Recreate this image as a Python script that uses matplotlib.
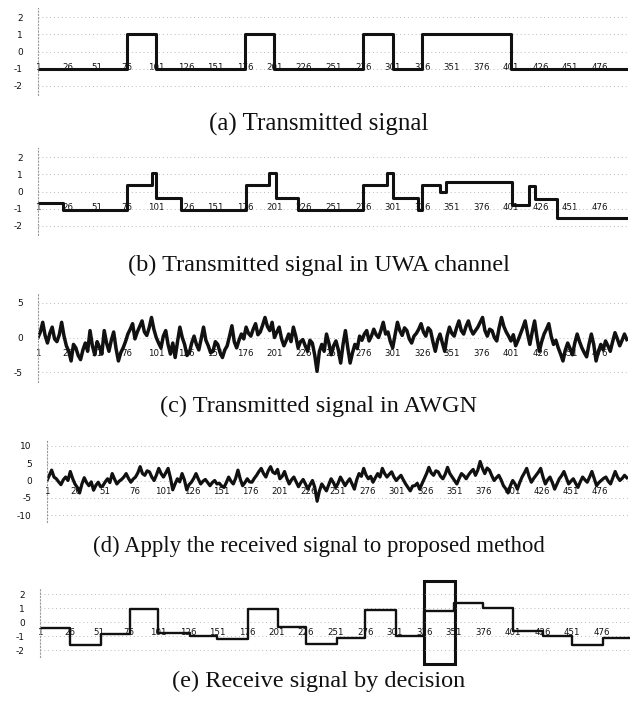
import matplotlib.pyplot as plt
import numpy as np
from matplotlib.patches import Rectangle

plt.rcParams["axes.unicode_minus"] = False

W, H = 638, 709

# x axis: sample index, labelled every 25 samples
tick_samples = list(range(1, 500, 25))
tick_labels = [str(t) for t in tick_samples]

# (a) transmitted signal, one level per 25-sample symbol
tx_levels = [-1, -1, -1, 1, -1, -1, -1, 1, -1, -1, -1, 1, -1, 1, 1, 1, -1, -1, -1, -1]

# (b) signal after the UWA channel (segment edges and levels)
uwa_edges = [1, 22, 76, 97, 101, 122, 177, 196, 202, 221, 276, 296, 301, 322, 326,
             341, 346, 402, 416, 421, 440, 500]
uwa_levels = [-0.65, -1.05, 0.35, 1.05, -0.35, -1.05, 0.35, 1.05, -0.35, -1.05, 0.35,
              1.1, -0.35, -1.05, 0.35, 0.0, 0.55, -0.8, 0.3, -0.45, -1.55]

# (c) signal in AWGN, read every 2nd sample
awgn_vals = [0.0, 0.8, 2.2, 0.3, -0.8, 0.6, 1.5, -0.2, -0.6, 0.4, 2.2, 0.2,
             -1.2, -2.0, -3.4, -1.0, -1.5, -2.6, -3.2, -1.8, -0.8, -2.0, 1.0, -1.2, -2.5,
             -0.6, -1.4, -2.4, 1.0, -0.8, -2.0, -0.4, 0.8, -1.6, -3.4, -2.2, -1.5, -0.6,
             0.5, 1.2, 2.0, -0.2, 0.8, 1.6, 2.4, 0.8, 0.3, 1.4, 2.9, 1.2,
             0.0, -0.8, -1.5, 0.2, 1.0, -1.0, -2.4, -0.8, -2.9, -0.6, 1.5, 0.0,
             -1.0, -2.6, -2.2, -0.8, 0.2, -1.0, -1.8, -0.2, 1.5, -0.4, -1.2, -2.2,
             -2.0, -0.6, -1.0, -2.2, -2.9, -1.8, -1.2, 0.2, 1.7, -0.6, -1.5, -0.4, 0.5, -0.2,
             1.5, 0.6, 0.2, 1.2, 2.0, 0.4, 0.8, 1.8, 2.9, 1.6, 1.0, 2.2,
             0.0, 0.8, 1.5, -0.2, -1.2, -0.4, 0.5, -0.6, 1.5, 0.2,
             -1.5, -0.6, -0.3, -1.2, -2.0, -0.4, -0.8, -2.5, -4.9, -2.0,
             -1.0, -2.0, 0.5, -0.8, -2.5, -1.2, -0.5, -1.8, -3.7,
             -1.0, 1.0, -1.5, -3.7, -2.2, -1.0, -1.6, 0.2, -0.4,
             0.5, 1.0, -0.5, 0.2, 1.2, 0.4, 0.0, 1.0, 2.2, 0.5, 0.8, -0.6, -1.5, 0.4,
             2.2, 1.0, 0.3, 1.4, 1.0, -0.2, -0.8, 0.2, 0.6, 1.2, 2.0, 0.8, 0.2, 1.4,
             1.0, -0.6, -2.0, -0.4, 0.5, -0.8, -2.0, 0.2, 1.5,
             0.6, 0.2, 1.4, 2.4, 1.0, 0.5, 1.6, 2.4, 1.2,
             0.5, 1.0, 1.5, 2.2, 2.9, 1.0, 0.2, 1.2, 1.0, 0.0,
             -0.5, 1.4, 2.9, 1.6, 0.8, 0.2, -0.5, 0.4, -1.2, -0.4,
             0.5, 1.4, 2.4, 0.6, -1.0, 0.8, 2.4, 0.0,
             -2.0, -0.6, 0.5, 1.2, 2.0, 0.2, -1.0, -0.4,
             -1.5, -2.4, -3.4, -1.8, -0.8, -1.6, -2.5, -0.8, 0.5, -0.6,
             -1.5, -2.2, -2.8, -1.0, 0.5, -1.0, -3.4, -2.0, -1.0, -1.8,
             -0.5, -1.2, -2.0, -0.6, 0.7, -0.2, -1.2, -0.4, 0.5, -0.3]

# (d) received signal fed to the proposed method, every 2nd sample
prop_vals = [0.0, 1.5, 3.0, 1.0, 0.5, -0.4, -1.2, 0.2, 1.0, 0.0, 2.6, 0.6,
             -1.0, -2.0, -3.6, -1.0, 0.8, -0.6, -1.5, -0.4, -2.8, -1.4, -0.5, -1.8,
             -1.5, -0.4, 0.5, -0.6, 2.0, 0.4, -1.0, -0.2, 0.3, 1.0, 2.0, 0.6, -0.5, 0.4,
             1.0, 2.2, 4.0, 2.0, 1.5, 2.8, 2.5, 1.0, 0.0, 1.6, 3.5, 2.0, 1.0, 2.2, 3.5, 0.8,
             -2.7, -1.0, 0.5, -0.4, 2.0, 0.2, -2.7, -1.2, -0.5, 0.6, 2.0, 0.4, -1.0,
             -0.2, 0.3, -0.6, -1.5, -0.6, 0.0, -1.0, -0.8, -1.6, -2.0, -0.6, 1.0, -0.2,
             -1.0, 0.6, 3.0, 0.4, -1.5, -0.6, 0.5, -0.4, -0.5, 0.6,
             1.5, 2.6, 3.5, 2.0, 1.0, 2.8, 4.0, 2.4, 2.0, 3.2,
             0.5, 1.2, 2.6, 0.6, -1.0, 0.2, 1.0, -0.4, -1.8, -0.6, 0.3, -1.0, -2.5,
             -1.2, 0.0, -2.0,
             -6.0, -3.0, -1.0, -2.0, -3.0, -1.2, 0.5, -0.6, -2.0, -0.8,
             1.0, -0.2, -1.5, -0.4, 0.5, -1.0, -2.5, 0.2, 2.0, 1.2, 3.5, 1.6, 0.5, 1.2,
             -0.5, 0.8, 2.0, 1.0, 3.5, 2.0, 1.0, 1.8, 2.5, 1.0, 0.0, 0.8, 1.5, 0.2,
             -1.0, -2.0, -3.0, -1.6, -1.5, -0.8, -2.5, -1.0,
             0.5, 2.0, 3.8, 2.2, 1.5, 2.8, 2.5, 1.2, 0.5, 1.8, 3.8, 2.0, 1.0, 0.0,
             -1.0, 0.6, 2.0, 1.4, 0.5, 1.6,
             2.5, 3.2, 1.5, 3.0, 5.5, 3.5, 2.0, 3.6, 3.0, 1.4, 0.0, 0.8, 1.5, 0.2,
             -1.5, -2.4, -3.6, -1.5, 0.0, -1.0, -2.5, -0.6, 1.0, 2.2, 3.5, 1.2, -0.5,
             0.6, 1.5, 2.4, 3.5, 1.0, -1.0, 0.2,
             1.0, -0.6, -2.5, -1.0, 0.5, 1.4, 2.6, 0.8, -1.0, -0.2, 0.5, -0.8, -2.0,
             -0.4, 1.0, 0.2, -0.5, 1.0, 2.6, 0.6, -1.5, -0.6, 0.0, 0.6, 1.0, -0.2,
             -1.0, 0.8, 2.6, 1.0, 0.0, 0.6, 1.5, 0.8]

# (e) decided signal
dec_edges = [1, 26, 53, 77, 101, 128, 151, 177, 202, 226, 252, 276, 302, 326, 351,
             376, 401, 426, 451, 477, 500]
dec_levels = [-0.43, -1.67, -0.84, 0.95, -0.79, -1.03, -1.19, 0.95, -0.38, -1.55,
              -1.14, 0.88, -0.98, 0.76, 1.36, 1.0, -0.62, -1.03, -1.67, -1.14]
box_x = (326, 352)
box_y = (-3.0, 2.9)

captions = ["(a) Transmitted signal",
            "(b) Transmitted signal in UWA channel",
            "(c) Transmitted signal in AWGN",
            "(d) Apply the received signal to proposed method",
            "(e) Receive signal by decision"]
caption_sizes = [18, 17.5, 17.5, 16.4, 17.5]

INK = "#111111"


def make_axes(fig, left, top, right, bottom, ylim, yticks, ylabels, label_pad):
    ax = fig.add_axes([left / W, 1 - bottom / H, (right - left) / W, (bottom - top) / H])
    ax.set_xlim(1, 500)
    ax.set_ylim(*ylim)
    ax.set_yticks(yticks)
    ax.set_yticklabels(ylabels)
    ax.set_xticks(tick_samples)
    ax.set_xticklabels(tick_labels, fontweight="bold")
    for side in ["top", "right"]:
        ax.spines[side].set_visible(False)
    ax.spines["bottom"].set_position(("data", 0))
    ax.spines["bottom"].set_visible(False)
    ax.spines["left"].set_linestyle((0, (1, 2)))
    ax.spines["left"].set_color("#999999")
    ax.spines["left"].set_linewidth(0.8)
    ax.tick_params(axis="x", length=0, pad=label_pad, labelsize=6.2, colors="#111111")
    ax.tick_params(axis="y", length=0, pad=11, labelsize=6.5, colors="#111111")
    ax.yaxis.grid(True, linestyle=(0, (1, 3)), color="#bbbbbb", linewidth=0.7)
    ax.set_facecolor("none")
    return ax


fig = plt.figure(figsize=(W / 100, H / 100), dpi=100)

# (a)
ax = make_axes(fig, 38, 8.4, 628, 94.6, (-2.5, 2.5), [-2, -1, 0, 1, 2],
               ["-2", "-1", "0", "1", "2"], 8)
edges = list(range(1, 501, 25)) + [500]
ax.step(edges, tx_levels + [tx_levels[-1]], where="post", color=INK, lw=2.2)

# (b)
ax = make_axes(fig, 38, 148.4, 628, 234.6, (-2.5, 2.5), [-2, -1, 0, 1, 2],
               ["-2", "-1", "0", "1", "2"], 8)
ax.step(uwa_edges, uwa_levels + [uwa_levels[-1]], where="post", color=INK, lw=2.2)

# (c)
ax = make_axes(fig, 38, 292.6, 628, 382.4, (-6.5, 6.5), [-5, 0, 5],
               ["-5", "0", "5"], 8)
ax.plot(np.arange(1, 500, 2), awgn_vals, color=INK, lw=2.5)

# (d)
ax = make_axes(fig, 47, 439, 628, 522, (-12, 12), [-10, -5, 0, 5, 10],
               ["-10", "-5", "0", "5", "10"], 4.5)
ax.plot(np.arange(1, 500, 2), prop_vals, color=INK, lw=2.3)

# (e)
ax = make_axes(fig, 40, 587, 630, 657, (-2.5, 2.5), [-2, -1, 0, 1, 2],
               ["-2", "-1", "0", "1", "2"], 4.5)
ax.step(dec_edges, dec_levels + [dec_levels[-1]], where="post", color=INK, lw=1.7)
ax.add_patch(Rectangle((box_x[0], box_y[0]), box_x[1] - box_x[0], box_y[1] - box_y[0],
                       fill=False, edgecolor=INK, lw=2.2, clip_on=False))

cap_y = [124, 265, 406, 546, 681]
for txt, yy, fs in zip(captions, cap_y, caption_sizes):
    fig.text(0.5, 1 - yy / H, txt, ha="center", va="center",
             family="Liberation Serif", fontsize=fs, color=INK)

fig.savefig("out.png", dpi=100, facecolor="white")
